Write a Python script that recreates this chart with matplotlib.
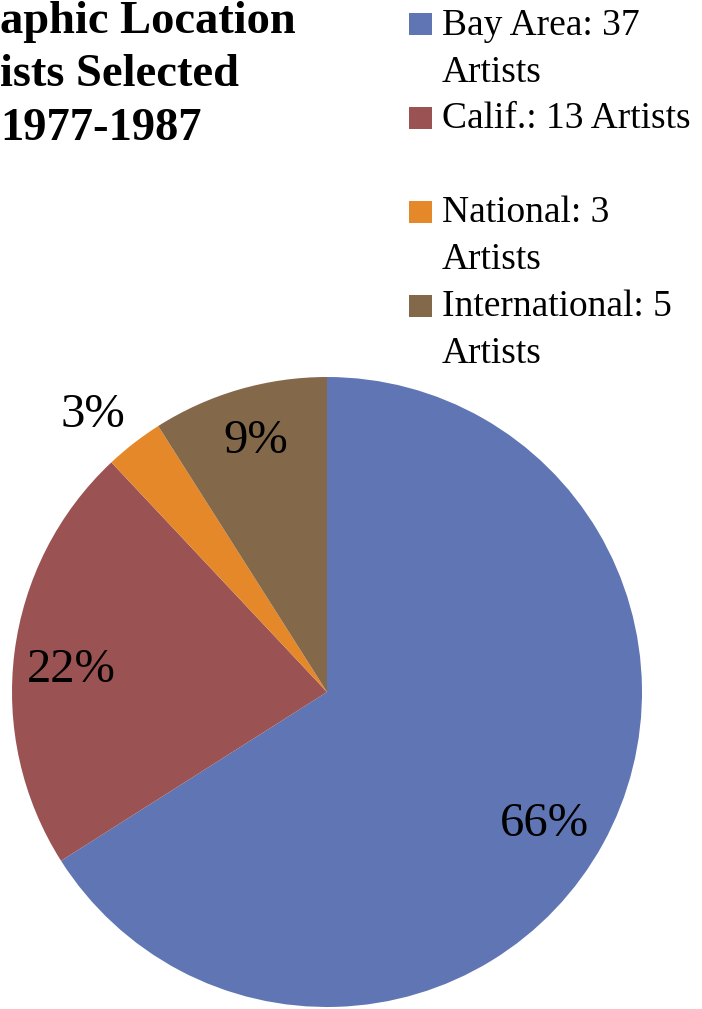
import matplotlib
matplotlib.use("Agg")
import matplotlib.pyplot as plt
import numpy as np
from matplotlib.patches import Rectangle

# Data
categories = ["Bay Area", "Calif.", "National", "International"]
artist_counts = [37, 13, 3, 5]
pie_percent = [66, 22, 3, 9]
legend_labels = ["Bay Area: 37\nArtists", "Calif.: 13 Artists\n", "National: 3\nArtists", "International: 5\nArtists"]
colors = ["#6075B4", "#9B5252", "#E5882A", "#84684A"]
# visible part of the (cropped) title
title_lines = ["aphic Location", "ists Selected", "1977-1987"]

W, H = 702, 1009
fig = plt.figure(figsize=(W / 100, H / 100), dpi=100)
plt.rcParams['font.family'] = ['Liberation Serif', 'DejaVu Serif']

# pie axes: centre (327, 692) px, radius 315 px
cx, cy, r = 327, 692, 315
ax = fig.add_axes([(cx - r) / W, (H - cy - r) / H, 2 * r / W, 2 * r / H])
wedges, _ = ax.pie(pie_percent, colors=colors, startangle=90, counterclock=False,
                   radius=1.0, wedgeprops=dict(linewidth=0))
ax.set_xlim(-1, 1)
ax.set_ylim(-1, 1)
ax.set_aspect('equal')
ax.axis('off')

label_dist = [0.81, 0.82, 1.16, 0.85]
label_shift = [(-6, -4), (1, -5), (-10, -7), (3, -1)]  # pixel nudges
for w, p, d, s in zip(wedges, pie_percent, label_dist, label_shift):
    ang = np.deg2rad((w.theta1 + w.theta2) / 2)
    ax.annotate(f"{p}%", xy=(d * np.cos(ang), d * np.sin(ang)), xytext=s,
                textcoords='offset pixels', ha='center', va='center_baseline',
                fontsize=35, color='black')

# title
for i, line in enumerate(title_lines):
    fig.text(0, 1 - (33 + i * 53.5) / H, line, ha='left', va='baseline',
             fontsize=33.5, fontweight='bold')

# legend
line_h = 47
for i, (lab, c) in enumerate(zip(legend_labels, colors)):
    base = 35 + i * 2 * line_h - 1 * (i > 0)
    fig.patches.append(Rectangle((409 / W, 1 - 35 / H - i * 2 * line_h / H), 23 / W, 22 / H,
                                 transform=fig.transFigure, facecolor=c, edgecolor='none'))
    first, second = lab.split("\n")
    fig.text(442 / W, 1 - base / H, first, ha='left', va='baseline', fontsize=27)
    if second:
        fig.text(442 / W, 1 - (base + line_h) / H, second, ha='left', va='baseline', fontsize=27)

fig.savefig("out.png", dpi=100)
